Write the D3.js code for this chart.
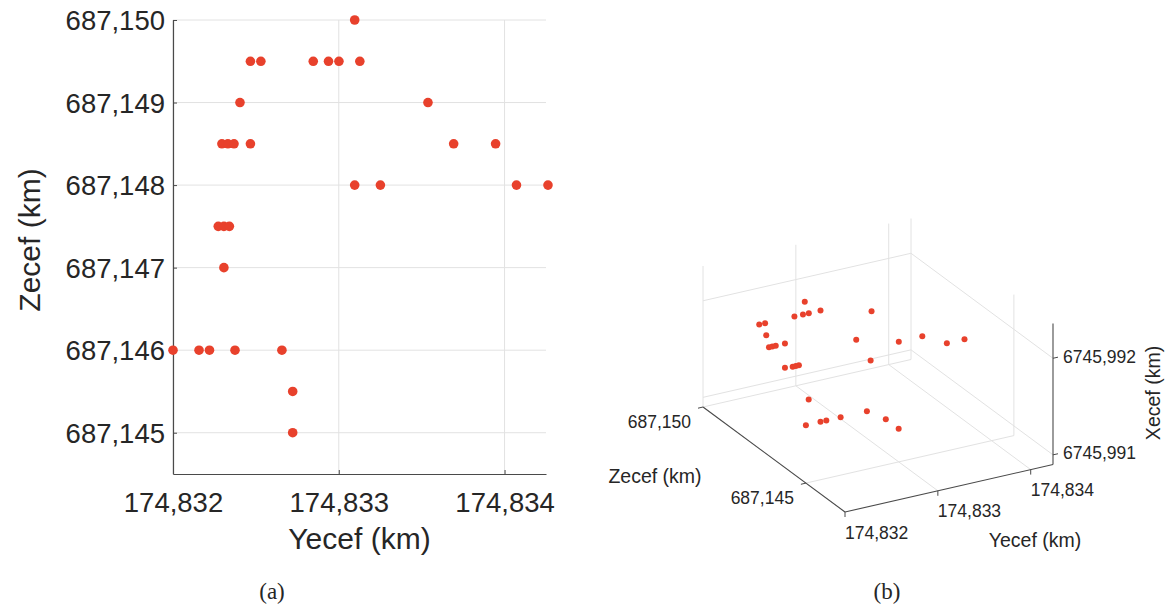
<!DOCTYPE html>
<html><head><meta charset="utf-8">
<script src="https://cdn.jsdelivr.net/npm/d3@7"></script>
<style>
html,body{margin:0;padding:0;background:#fff;}
svg{display:block;}
text{font-family:"Liberation Sans",Arial,Helvetica,sans-serif;fill:#262626;}
</style></head>
<body>
<svg id="fig" width="1173" height="610"></svg>
<script>
// ---------- data (km, decimal comma in labels) ----------
// Panel (a): Yecef vs Zecef
const yecefA = [174.833096,
  174.832467,174.832530,174.832846,174.832938,174.833001,174.833127,
  174.832404,174.833538,
  174.832295,174.832331,174.832368,174.832467,174.833693,174.833946,
  174.833096,174.833251,174.834072,174.834262,
  174.832273,174.832307,174.832340,
  174.832307,
  174.832000,174.832157,174.832220,174.832374,174.832657,
  174.832722,
  174.832722];
const zecefA = [687.1500,
  687.1495,687.1495,687.1495,687.1495,687.1495,687.1495,
  687.1490,687.1490,
  687.1485,687.1485,687.1485,687.1485,687.1485,687.1485,
  687.1480,687.1480,687.1480,687.1480,
  687.1475,687.1475,687.1475,
  687.1470,
  687.1460,687.1460,687.1460,687.1460,687.1460,
  687.1455,
  687.1450];
const yecefTicksA = [174.832, 174.833, 174.834];
const zecefTicksA = [687.145, 687.146, 687.147, 687.148, 687.149, 687.150];

const yecefB = [174.833096,
  174.832467,174.832530,174.832846,174.832938,174.833001,174.833127,
  174.832404,174.833538,
  174.832295,174.832331,174.832368,174.832467,174.832467,174.833693,174.833946,
  174.833096,174.833251,174.834072,174.834262,
  174.832273,174.832307,174.832340,
  174.832307,
  174.832000,174.832157,174.832220,174.832374,174.832657,
  174.832722,
  174.832722];
const zecefB = [687.150000,
  687.149375,687.149375,687.149375,687.149375,687.149375,687.149375,
  687.148750,687.148750,
  687.148125,687.148125,687.148125,687.148125,687.148125,687.148125,687.148125,
  687.147500,687.147500,687.147500,687.147500,
  687.146875,687.146875,687.146875,
  687.146250,
  687.145000,687.145000,687.145000,687.145000,687.145000,
  687.144375,
  687.143750];
const xecefB = [6745.99175,
  6745.99175,6745.99175,6745.99175,6745.99175,6745.99175,6745.99175,
  6745.99175,6745.99175,
  6745.99175,6745.99175,6745.99175,6745.99175,6745.99150,6745.99150,6745.99150,
  6745.99175,6745.99150,6745.99150,6745.99150,
  6745.99175,6745.99175,6745.99175,
  6745.99150,
  6745.99150,6745.99150,6745.99150,6745.99150,6745.99150,
  6745.99150,
  6745.99150];
const yecefTicksB = [174.832, 174.833, 174.834];
const zecefTicksB = [687.150, 687.145];
const xecefTicksB = [6745.991, 6745.992];

const labelsA = {x: "Yecef (km)", y: "Zecef (km)", caption: "(a)"};
const labelsB = {x: "Zecef (km)", y: "Yecef (km)", z: "Xecef (km)", caption: "(b)"};

// ---------- styling ----------
const dotColor = "#e8412c";
const gridColor = "#e2e2e2";
const axisColor = "#4a4a4a";
const fmt = d3.formatLocale({decimal: ",", thousands: ".", grouping: [3], currency: ["", ""]}).format(".3f");

const svg = d3.select("#fig");

// ================= Panel (a) =================
const xA = d3.scaleLinear().domain([174.832, 174.83425]).range([173, 546]);
const yA = d3.scaleLinear().domain([687.1445, 687.150]).range([474, 20]);
const gA = svg.append("g");

gA.append("g").selectAll("line").data(yecefTicksA).join("line")
  .attr("x1", d => xA(d)).attr("x2", d => xA(d))
  .attr("y1", yA.range()[0]).attr("y2", yA.range()[1])
  .attr("stroke", gridColor).attr("stroke-width", 1);
gA.append("g").selectAll("line").data(zecefTicksA).join("line")
  .attr("x1", xA.range()[0]).attr("x2", xA.range()[1])
  .attr("y1", d => yA(d)).attr("y2", d => yA(d))
  .attr("stroke", gridColor).attr("stroke-width", 1);

const axB = gA.append("g").attr("transform", `translate(0,${yA.range()[0]})`)
  .call(d3.axisBottom(xA).tickValues(yecefTicksA).tickFormat(fmt).tickSize(-4).tickSizeOuter(0).tickPadding(18));
const axL = gA.append("g").attr("transform", `translate(${xA.range()[0]},0)`)
  .call(d3.axisLeft(yA).tickValues(zecefTicksA).tickFormat(fmt).tickSize(-4).tickSizeOuter(0).tickPadding(8));
[axB, axL].forEach(ax => {
  ax.select(".domain").attr("stroke", axisColor).attr("stroke-width", 1.2);
  ax.selectAll(".tick line").attr("stroke", axisColor);
  ax.selectAll(".tick text").attr("fill", "#262626")
    .style("font-family", '"Liberation Sans",Arial,sans-serif').style("font-size", "27.5px");
});
axL.selectAll(".tick text").attr("dy", "0.35em");

gA.append("g").selectAll("circle").data(yecefA.map((y, i) => [y, zecefA[i]])).join("circle")
  .attr("cx", d => xA(d[0])).attr("cy", d => yA(d[1])).attr("r", 4.8)
  .attr("fill", dotColor);

gA.append("text").attr("x", (xA.range()[0] + xA.range()[1]) / 2).attr("y", 549)
  .attr("text-anchor", "middle")
  .style("font-size", "30px").text(labelsA.x);
gA.append("text").attr("transform", "translate(40,240) rotate(-90)")
  .attr("text-anchor", "middle")
  .style("font-size", "30px").text(labelsA.y);
gA.append("text").attr("x", 272).attr("y", 594)
  .attr("text-anchor", "middle").attr("dominant-baseline", "middle")
  .style("font-family", '"Liberation Serif","DejaVu Serif",serif').style("font-size", "23px")
  .text(labelsA.caption);

// ================= Panel (b): orthographic 3-D =================
const origin = [703, 407];            // (Ymin, Zmax, Xmin) corner
const vY = [208, -47.5];              // full Yecef range on screen
const vZ = [142, 105];                // full Zecef range (back -> front)
const vX = [0, -141];                 // full Xecef range (vertical)
const sY3 = d3.scaleLinear().domain([174.832, 174.83424]).range([0, 1]);
const sZ3 = d3.scaleLinear().domain([687.150, 687.1431]).range([0, 1]);
const sX3 = d3.scaleLinear().domain([6745.9909, 6745.99236]).range([0, 1]);
function P(y, z, x) {
  const a = sY3(y), b = sZ3(z), c = sX3(x);
  return [origin[0] + a * vY[0] + b * vZ[0] + c * vX[0],
          origin[1] + a * vY[1] + b * vZ[1] + c * vX[1]];
}
const [Ymin, Ymax] = sY3.domain();
const [Zmax, Zmin] = sZ3.domain();
const [Xmin, Xmax] = sX3.domain();

const gB = svg.append("g");
const segs = [];
// floor grid
yecefTicksB.forEach(y => segs.push([P(y, Zmax, Xmin), P(y, Zmin, Xmin)]));
zecefTicksB.forEach(z => segs.push([P(Ymin, z, Xmin), P(Ymax, z, Xmin)]));
// back-left wall (Z = Zmax)
yecefTicksB.forEach(y => segs.push([P(y, Zmax, Xmin), P(y, Zmax, Xmax)]));
xecefTicksB.forEach(x => segs.push([P(Ymin, Zmax, x), P(Ymax, Zmax, x)]));
// back-right wall (Y = Ymax)
zecefTicksB.forEach(z => segs.push([P(Ymax, z, Xmin), P(Ymax, z, Xmax)]));
xecefTicksB.forEach(x => segs.push([P(Ymax, Zmax, x), P(Ymax, Zmin, x)]));
gB.append("g").selectAll("line").data(segs).join("line")
  .attr("x1", d => d[0][0]).attr("y1", d => d[0][1])
  .attr("x2", d => d[1][0]).attr("y2", d => d[1][1])
  .attr("stroke", gridColor).attr("stroke-width", 1);

// axis lines
const axes3 = [
  [P(Ymin, Zmax, Xmin), P(Ymin, Zmin, Xmin)],
  [P(Ymin, Zmin, Xmin), P(Ymax, Zmin, Xmin)],
  [P(Ymax, Zmin, Xmin), P(Ymax, Zmin, Xmax)]
];
gB.append("g").selectAll("line").data(axes3).join("line")
  .attr("x1", d => d[0][0]).attr("y1", d => d[0][1])
  .attr("x2", d => d[1][0]).attr("y2", d => d[1][1])
  .attr("stroke", axisColor).attr("stroke-width", 1.1);

// tick marks
const ticks3 = [];
zecefTicksB.forEach(z => { const p = P(Ymin, z, Xmin); ticks3.push([p, [p[0] - 5, p[1] + 1.2]]); });
yecefTicksB.forEach(y => { const p = P(y, Zmin, Xmin); ticks3.push([p, [p[0], p[1] + 5]]); });
xecefTicksB.forEach(x => { const p = P(Ymax, Zmin, x); ticks3.push([p, [p[0] + 5, p[1] - 1.1]]); });
gB.append("g").selectAll("line").data(ticks3).join("line")
  .attr("x1", d => d[0][0]).attr("y1", d => d[0][1])
  .attr("x2", d => d[1][0]).attr("y2", d => d[1][1])
  .attr("stroke", axisColor).attr("stroke-width", 1);

// points
gB.append("g").selectAll("circle").data(yecefB.map((y, i) => P(y, zecefB[i], xecefB[i]))).join("circle")
  .attr("cx", d => d[0]).attr("cy", d => d[1]).attr("r", 3)
  .attr("fill", dotColor);

// tick labels
const tl = gB.append("g").style("font-size", "17.5px");
zecefTicksB.forEach(z => { const p = P(Ymin, z, Xmin);
  tl.append("text").attr("x", p[0] - 12).attr("y", p[1] + 16).attr("text-anchor", "end")
    .attr("dominant-baseline", "middle").text(fmt(z)); });
yecefTicksB.forEach(y => { const p = P(y, Zmin, Xmin);
  tl.append("text").attr("x", p[0]).attr("y", p[1] + 22).attr("text-anchor", "start")
    .attr("dominant-baseline", "middle").text(fmt(y)); });
xecefTicksB.forEach(x => { const p = P(Ymax, Zmin, x);
  tl.append("text").attr("x", p[0] + 10).attr("y", p[1]).attr("text-anchor", "start")
    .attr("dominant-baseline", "middle").text(fmt(x)); });

// axis titles
const at = gB.append("g").style("font-size", "19.5px");
at.append("text").attr("x", 655).attr("y", 478).attr("text-anchor", "middle")
  .attr("dominant-baseline", "middle").text(labelsB.x);
at.append("text").attr("x", 1035).attr("y", 542).attr("text-anchor", "middle")
  .attr("dominant-baseline", "middle").text(labelsB.y);
at.append("text").attr("transform", "translate(1155,393) rotate(-90)").attr("text-anchor", "middle")
  .attr("dominant-baseline", "middle").text(labelsB.z);
gB.append("text").attr("x", 887).attr("y", 594)
  .attr("text-anchor", "middle").attr("dominant-baseline", "middle")
  .style("font-family", '"Liberation Serif","DejaVu Serif",serif').style("font-size", "23px")
  .text(labelsB.caption);
</script>
</body></html>
